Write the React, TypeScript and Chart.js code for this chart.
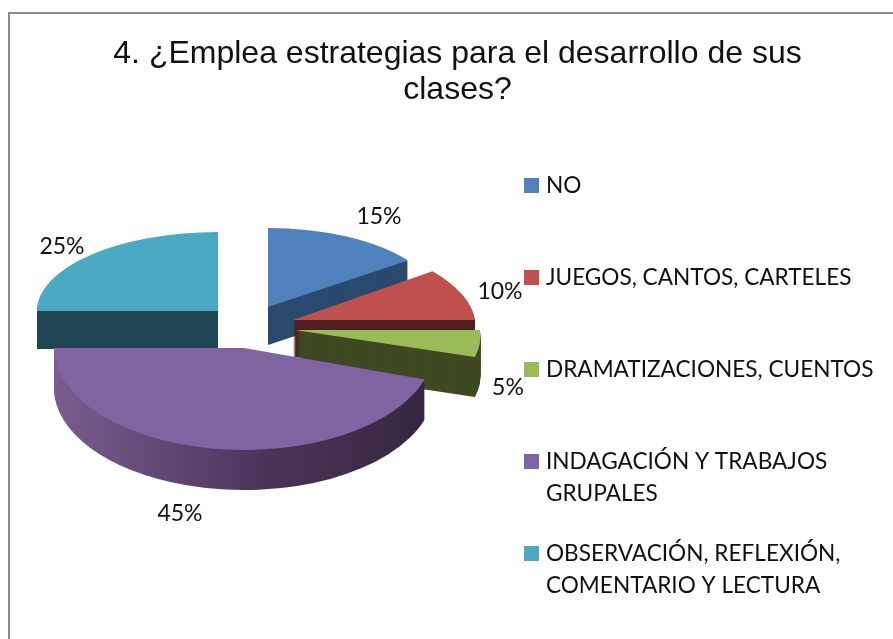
import React, { useEffect, useRef } from "react";
import { Chart, registerables } from "chart.js";

Chart.register(...registerables);

const TITLE_LINES = ["4. ¿Emplea estrategias para el desarrollo de sus", "clases?"];
const CATEGORIES = [
  ["NO"],
  ["JUEGOS, CANTOS, CARTELES"],
  ["DRAMATIZACIONES, CUENTOS"],
  ["INDAGACIÓN Y TRABAJOS", "GRUPALES"],
  ["OBSERVACIÓN, REFLEXIÓN,", "COMENTARIO Y LECTURA"],
];
const PERCENTAGES = [15, 10, 5, 45, 25];

const TOP_COLORS = ["#4F81BD", "#C0504D", "#9BBB59", "#8064A2", "#4BA9C3"];
const WALL_COLORS = ["#2A4A6E", "#4F1E1E", "#3F4A22", "", "#1F4554"];
const DRAW_ORDER = [0, 1, 2, 4, 3];

// Projection of each exploded slice: centre, radii, depth and perspective shear.
const SLICE_X = [268, 293, 295, 244, 218];
const SLICE_Y = [307, 320, 330, 348, 311];
const SLICE_RX = [173, 182, 185, 190, 181];
const SLICE_RY = [79, 83, 87, 102, 79];
const SLICE_DEPTH = [38, 37, 40, 40, 38];
const SLICE_SHEAR = [0, 0.16, 0.15, 0, 0];
const LABEL_DX = [111, 207, 213, -64, -156];
const LABEL_DY = [-90, -28, 58, 166, -64];

const FONT = "Lato, Carlito, 'Open Sans', sans-serif";

const pie3d = {
  id: "pie3d",
  beforeDraw(chart: any) {
    const { ctx, width, height } = chart;
    ctx.save();
    ctx.strokeStyle = "#8C8C8C";
    ctx.lineWidth = 2;
    ctx.beginPath();
    ctx.moveTo(9, height);
    ctx.lineTo(9, 13);
    ctx.lineTo(width, 13);
    ctx.stroke();
    ctx.restore();
  },
  beforeDatasetsDraw(chart: any) {
    const { ctx } = chart;
    const arcs = chart.getDatasetMeta(0).data;
    for (const i of DRAW_ORDER) {
      const arc = arcs[i];
      const cx = SLICE_X[i];
      const cy = SLICE_Y[i];
      const rx = SLICE_RX[i];
      const ry = SLICE_RY[i];
      const shear = SLICE_SHEAR[i];
      let wall: any = WALL_COLORS[i];
      if (!wall) {
        wall = ctx.createLinearGradient(-rx, 0, rx, 0);
        wall.addColorStop(0, "#7A5C92");
        wall.addColorStop(0.55, "#4A3559");
        wall.addColorStop(1, "#33263F");
      }
      for (let d = SLICE_DEPTH[i]; d >= 1; d--) {
        ctx.save();
        ctx.translate(cx, cy + d);
        ctx.transform(1, 0, shear, 1, 0, 0);
        ctx.fillStyle = wall;
        ctx.beginPath();
        ctx.moveTo(0, 0);
        ctx.ellipse(0, 0, rx, ry, 0, arc.startAngle, arc.endAngle);
        ctx.closePath();
        ctx.fill();
        ctx.restore();
      }

      ctx.save();
      ctx.translate(cx, cy);
      ctx.transform(1, 0, shear, 1, 0, 0);
      ctx.scale(rx / arc.outerRadius, ry / arc.outerRadius);
      ctx.translate(-arc.x, -arc.y);
      arc.draw(ctx);
      ctx.restore();
    }
    return false;
  },
  afterDraw(chart: any) {
    const { ctx } = chart;
    ctx.save();
    ctx.fillStyle = "#111";
    ctx.font = `23px ${FONT}`;
    ctx.textBaseline = "middle";
    ctx.textAlign = "center";
    chart.data.datasets[0].data.forEach((v: number, i: number) => {
      ctx.fillText(`${v}%`, SLICE_X[i] + LABEL_DX[i], SLICE_Y[i] + LABEL_DY[i]);
    });
    ctx.textAlign = "left";
    ctx.font = `22.6px ${FONT}`;
    chart.data.labels.forEach((lines: string[], i: number) => {
      const y = 186 + 92 * i;
      ctx.fillStyle = TOP_COLORS[i];
      ctx.fillRect(524, y - 8, 15, 15);
      ctx.fillStyle = "#111";
      lines.forEach((line, k) => ctx.fillText(line, 546, y + 32 * k));
    });
    ctx.restore();
  },
};

export default function App() {
  const ref = useRef<HTMLCanvasElement | null>(null);
  useEffect(() => {
    if (!ref.current) return;
    const chart = new Chart(ref.current, {
      type: "pie",
      data: {
        labels: CATEGORIES as any,
        datasets: [
          {
            data: PERCENTAGES,
            backgroundColor: TOP_COLORS,
            borderWidth: 0,
          },
        ],
      },
      options: {
        responsive: false,
        animation: false,
        devicePixelRatio: 1,
        events: [],
        layout: { padding: { left: 22 } },
        plugins: {
          legend: { display: false },
          tooltip: { enabled: false },
          title: {
            display: true,
            text: TITLE_LINES,
            fullSize: false,
            color: "#111",
            font: { family: "'Liberation Sans', Arial, sans-serif", size: 32, weight: "normal", lineHeight: 1.13 },
            padding: { top: 36, bottom: 10 },
          },
        },
      } as any,
      plugins: [pie3d],
    });
    return () => chart.destroy();
  }, []);
  return (
    <div style={{ position: "fixed", left: 0, top: 0, width: 893, height: 639, overflow: "hidden", background: "#fff" }}>
      <canvas ref={ref} width={893} height={639} style={{ display: "block" }} />
    </div>
  );
}
